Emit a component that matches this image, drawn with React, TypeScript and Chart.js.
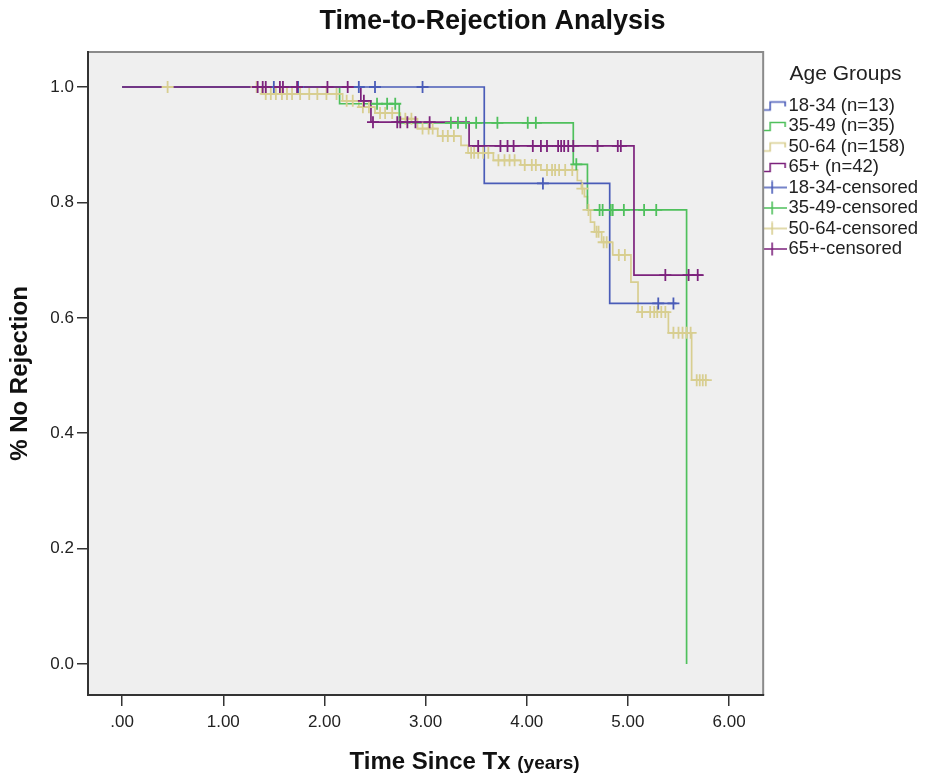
import React, { useEffect, useRef } from 'react';
import { Chart, registerables } from 'chart.js';

Chart.register(...registerables);

// ---------------- DATA ----------------
const chartTitle = 'Time-to-Rejection Analysis';
const xTitleMain = 'Time Since Tx';
const xTitleUnit = '(years)';
const yTitle = '% No Rejection';
const legendTitle = 'Age Groups';

const groupNames = ['18-34 (n=13)', '35-49 (n=35)', '50-64 (n=158)', '65+ (n=42)'];
const censorNames = ['18-34-censored', '35-49-censored', '50-64-censored', '65+-censored'];

const xTickValues = [0, 1, 2, 3, 4, 5, 6];
const xTickLabels = ['.00', '1.00', '2.00', '3.00', '4.00', '5.00', '6.00'];
const yTickValues = [0, 0.2, 0.4, 0.6, 0.8, 1.0];
const yTickLabels = ['0.0', '0.2', '0.4', '0.6', '0.8', '1.0'];

// 18-34
const g1EventTimes = [3.58, 4.82];
const g1Survival = [0.833, 0.625];
const g1LastTime = 5.48;
const g1Censored = [1.5, 1.74, 2.34, 2.5, 2.97, 4.16, 5.3, 5.45];

// 35-49
const g2EventTimes = [2.15, 2.74, 4.46, 4.6, 5.58];
const g2Survival = [0.971, 0.938, 0.866, 0.787, 0.0];
const g2LastTime = 5.58;
const g2Censored = [2.52, 2.62, 2.7, 3.25, 3.32, 3.4, 3.5, 3.71, 4.01, 4.09, 4.49, 4.72, 4.75, 4.83, 4.85, 4.96, 5.16, 5.28];

// 50-64
const g3EventTimes = [1.38, 2.18, 2.34, 2.5, 2.75, 2.92, 3.12, 3.35, 3.42, 3.67, 3.94, 4.14, 4.5, 4.54, 4.57, 4.6, 4.63, 4.67, 4.74, 4.85, 5.03, 5.1, 5.4, 5.63];
const g3Survival = [0.988, 0.976, 0.965, 0.955, 0.945, 0.928, 0.915, 0.899, 0.886, 0.873, 0.865, 0.856, 0.838, 0.824, 0.81, 0.787, 0.766, 0.749, 0.731, 0.709, 0.662, 0.61, 0.574, 0.492];
const g3LastTime = 5.79;
const g3Censored = [0.45, 1.33, 1.42, 1.47, 1.52, 1.58, 1.63, 1.68, 1.76, 1.85, 1.93, 2.02, 2.12, 2.22, 2.28, 2.38, 2.44, 2.55, 2.6, 2.67, 2.8, 2.86, 2.97, 3.03, 3.07, 3.17, 3.22, 3.28, 3.45, 3.48, 3.52, 3.57, 3.62, 3.72, 3.78, 3.83, 3.88, 3.98, 4.05, 4.09, 4.2, 4.25, 4.28, 4.32, 4.38, 4.45, 4.55, 4.61, 4.69, 4.71, 4.76, 4.79, 4.91, 4.97, 5.14, 5.22, 5.26, 5.29, 5.33, 5.37, 5.45, 5.5, 5.54, 5.58, 5.62, 5.68, 5.71, 5.74, 5.77];

// 65+
const g4EventTimes = [2.36, 2.46, 3.43, 5.06];
const g4Survival = [0.976, 0.939, 0.898, 0.674];
const g4LastTime = 5.74;
const g4Censored = [1.34, 1.39, 1.42, 1.56, 1.59, 1.73, 2.03, 2.23, 2.39, 2.48, 2.72, 2.75, 2.82, 2.9, 3.04, 3.52, 3.74, 3.81, 3.87, 4.06, 4.14, 4.2, 4.31, 4.34, 4.37, 4.41, 4.46, 4.7, 4.9, 4.93, 5.37, 5.6, 5.69];

// ---------------- STYLE ----------------
const colors = ['#4a5cb8', '#4fc05c', '#d8ce90', '#7c227c'];
const FONT = "Arial, 'Liberation Sans', Helvetica, sans-serif";

const groups = [
  { times: g1EventTimes, surv: g1Survival, last: g1LastTime, cens: g1Censored },
  { times: g2EventTimes, surv: g2Survival, last: g2LastTime, cens: g2Censored },
  { times: g3EventTimes, surv: g3Survival, last: g3LastTime, cens: g3Censored },
  { times: g4EventTimes, surv: g4Survival, last: g4LastTime, cens: g4Censored },
];

function survivalAt(times: number[], surv: number[], t: number) {
  let s = 1;
  for (let i = 0; i < times.length; i++) if (times[i] <= t) s = surv[i];
  return s;
}

function stepPoints(times: number[], surv: number[], last: number) {
  const pts = [{ x: 0, y: 1 }];
  times.forEach((t, i) => pts.push({ x: t, y: surv[i] }));
  const lastT = times[times.length - 1];
  if (last > lastT) pts.push({ x: last, y: surv[surv.length - 1] });
  return pts;
}

function makeIcon(color: string, kind: 'step' | 'cross') {
  const c = document.createElement('canvas');
  c.width = 30;
  c.height = 14;
  const ctx = c.getContext('2d')!;
  ctx.strokeStyle = color;
  ctx.lineWidth = 1.6;
  ctx.beginPath();
  if (kind === 'step') {
    ctx.moveTo(0, 11.5);
    ctx.lineTo(13, 11.5);
    ctx.lineTo(13, 3.5);
    ctx.lineTo(28, 3.5);
    ctx.lineTo(28, 8);
  } else {
    ctx.moveTo(0, 7);
    ctx.lineTo(30, 7);
    ctx.moveTo(15, 0.5);
    ctx.lineTo(15, 13.5);
  }
  ctx.stroke();
  return c;
}

const decorPlugin = {
  id: 'decor',
  beforeDraw(chart: any) {
    const { ctx, chartArea: a } = chart;
    ctx.save();
    ctx.fillStyle = '#ffffff';
    ctx.fillRect(0, 0, chart.width, chart.height);
    ctx.fillStyle = '#efefef';
    ctx.fillRect(a.left, a.top, a.right - a.left, a.bottom - a.top);
    ctx.restore();
  },
  afterDraw(chart: any) {
    const { ctx, chartArea: a } = chart;
    ctx.save();
    // frame
    ctx.lineWidth = 2;
    ctx.strokeStyle = '#8a8a8a';
    ctx.beginPath();
    ctx.moveTo(a.left, a.top);
    ctx.lineTo(a.right, a.top);
    ctx.lineTo(a.right, a.bottom);
    ctx.stroke();
    ctx.strokeStyle = '#333333';
    ctx.beginPath();
    ctx.moveTo(a.left, a.top - 1);
    ctx.lineTo(a.left, a.bottom);
    ctx.lineTo(a.right + 1, a.bottom);
    ctx.stroke();

    // main title
    ctx.fillStyle = '#111';
    ctx.textBaseline = 'middle';
    ctx.textAlign = 'center';
    ctx.font = `bold 27px ${FONT}`;
    ctx.fillText(chartTitle, (a.left + a.right) / 2 + 67, 22);

    // x title (mixed sizes)
    const f1 = `bold 24px ${FONT}`;
    const f2 = `bold 19px ${FONT}`;
    ctx.font = f1;
    const w1 = ctx.measureText(xTitleMain + ' ').width;
    ctx.font = f2;
    const w2 = ctx.measureText(xTitleUnit).width;
    const cx = (a.left + a.right) / 2 + 39;
    const startX = cx - (w1 + w2) / 2;
    const ty = a.bottom + 74;
    ctx.textAlign = 'left';
    ctx.textBaseline = 'alphabetic';
    ctx.font = f1;
    ctx.fillText(xTitleMain + ' ', startX, ty);
    ctx.font = f2;
    ctx.fillText(xTitleUnit, startX + w1, ty);
    ctx.restore();
  },
};

export default function App() {
  const ref = useRef<HTMLCanvasElement>(null);

  useEffect(() => {
    if (!ref.current) return;
    Chart.defaults.font.family = FONT;

    const lineOrder = [5, 6, 7, 4];
    const censOrder = [1, 2, 3, 0];

    const lineSets = groups.map((g, i) => ({
      type: 'line' as const,
      label: groupNames[i],
      data: stepPoints(g.times, g.surv, g.last),
      borderColor: colors[i],
      backgroundColor: colors[i],
      borderWidth: 1.7,
      pointRadius: 0,
      stepped: 'before' as const,
      fill: false,
      order: lineOrder[i],
    }));
    const censSets = groups.map((g, i) => ({
      type: 'line' as const,
      label: censorNames[i],
      data: g.cens.map((t) => ({ x: t, y: survivalAt(g.times, g.surv, t) })),
      borderColor: colors[i],
      backgroundColor: colors[i],
      showLine: false,
      pointStyle: 'cross' as const,
      pointRadius: 6,
      pointBorderWidth: 1.8,
      order: censOrder[i],
    }));

    const stepIcons = colors.map((c) => makeIcon(c, 'step'));
    const crossIcons = colors.map((c) => makeIcon(c, 'cross'));

    const chart = new Chart(ref.current, {
      type: 'line',
      data: { datasets: [...lineSets, ...censSets] as any },
      options: {
        animation: false,
        responsive: false,
        devicePixelRatio: 1,
        layout: { padding: { top: 52, right: 4, left: 0, bottom: 0 } },
        plugins: {
          tooltip: { enabled: false },
          title: { display: false },
          legend: {
            position: 'right',
            align: 'start',
            onClick: () => {},
            title: {
              display: true,
              text: legendTitle,
              color: '#222',
              font: { size: 21, family: FONT },
              padding: { top: 12, bottom: 5 },
            },
            labels: {
              usePointStyle: true,
              pointStyleWidth: 14,
              boxHeight: 14,
              padding: 2,
              color: '#222',
              font: { size: 18.5, family: FONT },
              generateLabels: () => [
                ...groupNames.map((t, i) => ({
                  text: t,
                  pointStyle: stepIcons[i],
                  fillStyle: 'transparent',
                  strokeStyle: 'transparent',
                  lineWidth: 0,
                  hidden: false,
                  fontColor: '#222',
                  datasetIndex: i,
                })),
                ...censorNames.map((t, i) => ({
                  text: t,
                  pointStyle: crossIcons[i],
                  fillStyle: 'transparent',
                  strokeStyle: 'transparent',
                  lineWidth: 0,
                  hidden: false,
                  fontColor: '#222',
                  datasetIndex: i + 4,
                })),
              ] as any,
            },
          },
        },
        scales: {
          x: {
            type: 'linear',
            min: -0.337,
            max: 6.337,
            afterFit: (s: any) => {
              s.height = 82;
            },
            afterBuildTicks: (s: any) => {
              s.ticks = xTickValues.map((v) => ({ value: v }));
            },
            ticks: {
              autoSkip: false,
              maxRotation: 0,
              padding: 6,
              color: '#222',
              font: { size: 17 },
              callback: (v: any) => {
                const i = xTickValues.indexOf(Number(v));
                return i >= 0 ? xTickLabels[i] : '';
              },
            },
            grid: {
              display: true,
              drawOnChartArea: false,
              drawTicks: true,
              tickLength: 11,
              color: '#333',
              lineWidth: 1.5,
            },
            border: { display: false },
          },
          y: {
            type: 'linear',
            min: -0.0537,
            max: 1.0607,
            afterFit: (s: any) => {
              s.width = 88;
            },
            afterBuildTicks: (s: any) => {
              s.ticks = yTickValues.map((v) => ({ value: v }));
            },
            ticks: {
              autoSkip: false,
              padding: 3,
              color: '#222',
              font: { size: 17 },
              callback: (v: any) => {
                const i = yTickValues.findIndex((t) => Math.abs(t - Number(v)) < 1e-9);
                return i >= 0 ? yTickLabels[i] : '';
              },
            },
            title: {
              display: true,
              text: yTitle,
              color: '#111',
              font: { size: 24, weight: 'bold' },
              padding: { top: 6, bottom: 0 },
            },
            grid: {
              display: true,
              drawOnChartArea: false,
              drawTicks: true,
              tickLength: 11,
              color: '#333',
              lineWidth: 1.5,
            },
            border: { display: false },
          },
        },
      },
      plugins: [decorPlugin],
    });

    return () => chart.destroy();
  }, []);

  return (
    <div style={{ position: 'absolute', left: 0, top: 0, width: 932, height: 777, background: '#fff' }}>
      <canvas ref={ref} width={932} height={777} style={{ width: 932, height: 777, display: 'block' }} />
    </div>
  );
}
